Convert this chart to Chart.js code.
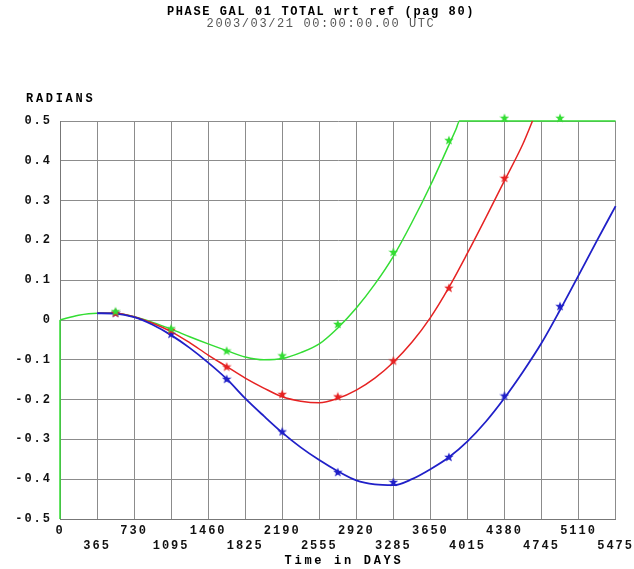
<!DOCTYPE html>
<html>
<head>
<meta charset="utf-8">
<script src="https://cdn.jsdelivr.net/npm/chart.js@4/dist/chart.umd.min.js"></script>
<style>
  html, body { margin: 0; padding: 0; background: #fff; }
  #phase { display: block; }
</style>
</head>
<body>
<canvas id="phase" width="634" height="569"></canvas>
<script>
const TITLE = 'PHASE GAL 01 TOTAL wrt ref (pag 80)';
const SUBTITLE = '2003/03/21 00:00:00.00 UTC';
const Y_LABEL = 'RADIANS';
const X_LABEL = 'Time in DAYS';

// continuous phase curves (days, radians)
const greenDays = [0, 182.5, 365, 547.5, 730, 912.5, 1095, 1277.5, 1460, 1642.5, 1825, 2007.5, 2190, 2372.5, 2555, 2737.5, 2920, 3102.5, 3285, 3467.5, 3650, 3832.5, 3900, 3938, 4015, 4380, 4745, 5110, 5475];
const greenVals = [0, 0.012, 0.017, 0.017, 0.008, -0.006, -0.023, -0.042, -0.06, -0.077, -0.093, -0.1, -0.097, -0.082, -0.06, -0.02, 0.03, 0.09, 0.16, 0.245, 0.338, 0.44, 0.478, 0.5, 0.5, 0.5, 0.5, 0.5, 0.5];
// green trace also runs down the left edge
const greenStemDays = [0, 0];
const greenStemVals = [-0.5, 0];

const redDays = [365, 547.5, 730, 912.5, 1095, 1277.5, 1460, 1642.5, 1825, 2007.5, 2190, 2372.5, 2555, 2737.5, 2920, 3102.5, 3285, 3467.5, 3650, 3832.5, 4015, 4197.5, 4380, 4562.5, 4656];
const redVals = [0.017, 0.017, 0.008, -0.008, -0.029, -0.057, -0.088, -0.117, -0.146, -0.171, -0.193, -0.204, -0.208, -0.197, -0.176, -0.146, -0.106, -0.056, 0.006, 0.082, 0.168, 0.258, 0.35, 0.443, 0.5];

const blueDays = [365, 547.5, 730, 912.5, 1095, 1277.5, 1460, 1642.5, 1825, 2007.5, 2190, 2372.5, 2555, 2737.5, 2920, 3102.5, 3285, 3467.5, 3650, 3832.5, 4015, 4197.5, 4380, 4562.5, 4745, 4927.5, 5110, 5292.5, 5475];
const blueVals = [0.017, 0.016, 0.007, -0.012, -0.038, -0.07, -0.107, -0.148, -0.197, -0.241, -0.283, -0.32, -0.352, -0.38, -0.403, -0.413, -0.415, -0.4, -0.375, -0.345, -0.305, -0.255, -0.196, -0.13, -0.058, 0.025, 0.112, 0.2, 0.286];

// sampled reference points (star markers)
const starDays = [547.5, 1095, 1642.5, 2190, 2737.5, 3285, 3832.5, 4380, 4927.5];
const greenStars = [0.022, -0.021, -0.077, -0.089, -0.01, 0.171, 0.452, 0.508, 0.508];
const redStars = [0.018, -0.025, -0.117, -0.186, -0.192, -0.102, 0.081, 0.357, null];
const blueStars = [0.018, -0.035, -0.148, -0.28, -0.382, -0.407, -0.344, -0.19, 0.035];

const GREEN = '#33dd33';
const RED = '#e62222';
const BLUE = '#2020c8';
const MONO = '"Liberation Mono", "DejaVu Sans Mono", monospace';

function pts(days, vals) {
    return days.map((d, i) => ({x: d, y: vals[i]}));
}

function makeStar(color) {
    const c = document.createElement('canvas');
    c.width = 10;
    c.height = 10;
    const g = c.getContext('2d');
    g.fillStyle = color;
    g.beginPath();
    for (let i = 0; i < 10; i++) {
        const r = i % 2 === 0 ? 5 : 2.1;
        const a = -Math.PI / 2 + i * Math.PI / 5;
        g.lineTo(5 + r * Math.cos(a), 5.4 + r * Math.sin(a));
    }
    g.closePath();
    g.fill();
    return c;
}

function curve(data, color, width) {
    return {
        data: data,
        borderColor: color,
        borderWidth: width,
        pointRadius: 0,
        cubicInterpolationMode: 'monotone',
        clip: false,
    };
}

function stars(data, color) {
    return {
        data: data,
        showLine: false,
        pointStyle: makeStar(color),
        pointRadius: 5,
        borderColor: color,
        backgroundColor: color,
        clip: false,
    };
}

// titles and axis captions, wide-spaced like the ticks
const captions = {
    id: 'captions',
    beforeDraw(chart) {
        chart.ctx.letterSpacing = '2px';
    },
    afterDraw(chart) {
        const ctx = chart.ctx;
        ctx.save();
        ctx.textBaseline = 'middle';
        ctx.textAlign = 'center';
        ctx.letterSpacing = '1.6px';
        ctx.fillStyle = '#000';
        ctx.font = 'bold 12px ' + MONO;
        ctx.fillText(TITLE, 321, 12);
        ctx.fillStyle = '#555';
        ctx.font = '12px ' + MONO;
        ctx.fillText(SUBTITLE, 321, 24);
        ctx.letterSpacing = '2.7px';
        ctx.fillStyle = '#000';
        ctx.font = 'bold 12px ' + MONO;
        ctx.fillText(X_LABEL, 344, 561);
        ctx.textAlign = 'left';
        ctx.fillText(Y_LABEL, 26, 99);
        ctx.restore();
    }
};

new Chart(document.getElementById('phase'), {
    type: 'line',
    data: {
        datasets: [
            stars(pts(starDays, greenStars), GREEN),
            stars(pts(starDays, redStars), RED),
            stars(pts(starDays, blueStars), BLUE),
            curve(pts(blueDays, blueVals), BLUE, 1.8),
            curve(pts(redDays, redVals), RED, 1.5),
            curve(pts(greenDays, greenVals), GREEN, 1.5),
            curve(pts(greenStemDays, greenStemVals), GREEN, 1.5),
        ]
    },
    options: {
        responsive: false,
        animation: false,
        events: [],
        layout: {
            padding: {top: 121, right: 18, left: 0, bottom: 0},
        },
        plugins: {
            legend: {display: false},
            tooltip: {enabled: false},
        },
        scales: {
            x: {
                type: 'linear',
                min: 0,
                max: 5475,
                afterFit: s => { s.height = 50; },
                grid: {color: '#8c8c8c', lineWidth: 1, drawTicks: false},
                border: {color: '#777', width: 1},
                ticks: {
                    stepSize: 365,
                    autoSkip: false,
                    maxRotation: 0,
                    padding: 4,
                    color: '#111',
                    font: {family: MONO, size: 12, weight: 'bold', lineHeight: 1.25},
                    callback: (v, i) => i % 2 === 0 ? [String(v), ''] : ['', String(v)],
                },
            },
            y: {
                min: -0.5,
                max: 0.5,
                afterFit: s => { s.width = 60; },
                grid: {color: '#8c8c8c', lineWidth: 1, drawTicks: false},
                border: {color: '#777', width: 1},
                ticks: {
                    stepSize: 0.1,
                    padding: 8,
                    color: '#111',
                    font: {family: MONO, size: 12, weight: 'bold'},
                    callback: v => {
                        const r = Math.round(v * 10) / 10;
                        return r === 0 ? '0' : r.toFixed(1);
                    },
                },
            },
        },
    },
    plugins: [captions],
});
</script>
</body>
</html>
